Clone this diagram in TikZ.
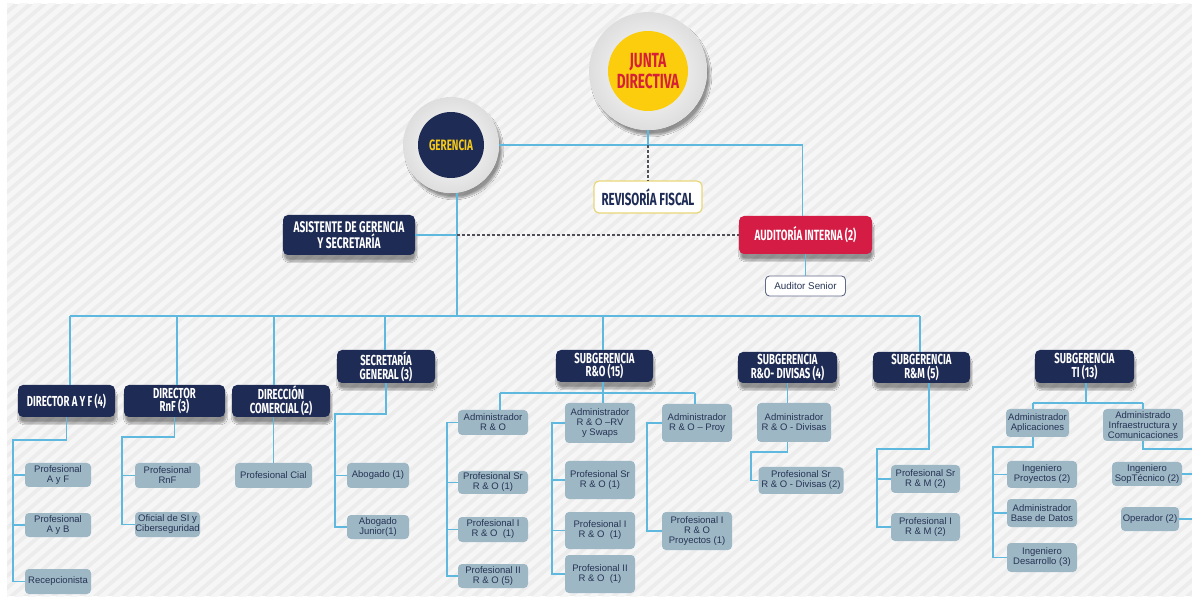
\documentclass[tikz,border=0pt]{standalone}
\usepackage{fontspec}
\usetikzlibrary{shadows.blur}
\newfontfamily\hdfont[FakeStretch=0.66]{Fira Sans Bold}
\newfontfamily\sbfont{Liberation Sans}
\definecolor{navy}{RGB}{30,43,85}
\definecolor{linec}{RGB}{95,185,222}
\definecolor{boxfill}{RGB}{158,183,197}
\definecolor{boxtext}{RGB}{38,52,84}
\definecolor{redbox}{RGB}{212,28,68}
\definecolor{jred}{RGB}{214,32,55}
\definecolor{jyel}{RGB}{251,205,12}
\definecolor{gyel}{RGB}{246,202,22}
\definecolor{revb}{RGB}{232,214,120}
\definecolor{dashc}{RGB}{80,80,88}
\definecolor{bgc}{RGB}{236,236,237}
\definecolor{stripec}{RGB}{246,246,247}
\tikzset{
  hdr/.style={fill=navy, rounded corners=5pt, text=white, align=center, inner sep=0pt,
    font=\hdfont\fontsize{14.5}{11.5}\selectfont,
    blur shadow={shadow xshift=1pt, shadow yshift=-6pt, shadow blur steps=8, shadow opacity=40}},
  sbox/.style={fill=boxfill, rounded corners=4pt, text=boxtext, align=center, inner sep=0pt,
    font=\sbfont\fontsize{9.5}{10}\selectfont},
  conn/.style={draw=linec, line width=1.5pt},
  dconn/.style={draw=dashc, line width=1.3pt, dash pattern=on 3pt off 2pt},
  ringbase/.style={circle, inner sep=0pt, fill=white,
    blur shadow={shadow xshift=3pt, shadow yshift=-5pt, shadow blur steps=10, shadow opacity=40}},
  ringface/.style={circle, inner sep=0pt, shading=radial, inner color=white, outer color=black!13},
}
\begin{document}
\begin{tikzpicture}[x=1pt,y=-1pt]
\useasboundingbox (0,0) rectangle (1192,601);

% striped backdrop
\fill[white] (0,0) rectangle (1192,601);
\begin{scope}
  \clip (7,4) rectangle (1192,596);
  \fill[bgc] (7,4) rectangle (1192,596);
  \foreach \i in {-60,...,90}
    \draw[stripec, line width=5pt] (\i*14,600) -- (\i*14+700,0);
\end{scope}

% top level
\node[ringbase, minimum size=118] (jun) at (648,71) {};
\node[ringface, minimum size=118] at (jun) {};
\node[circle, fill=jyel, minimum size=80, inner sep=0pt, text=jred, align=center,
      font=\hdfont\fontsize{20.5}{21}\selectfont] (junIn) at (jun) {JUNTA\\DIRECTIVA};
\node[ringbase, minimum size=96] (ger) at (451,145) {};
\node[ringface, minimum size=96] at (ger) {};
\node[circle, fill=navy, minimum size=66, inner sep=0pt, text=gyel,
      font=\hdfont\fontsize{15}{15}\selectfont] (gerIn) at (ger) {GERENCIA};
\node[fill=white, draw=revb, line width=1.2pt, rounded corners=5pt, minimum width=108, minimum height=32,
      inner sep=0pt, text=navy, font=\hdfont\fontsize{17.5}{17}\selectfont] (rev) at (648,197) {REVISORÍA FISCAL};
\node[hdr, minimum width=132, minimum height=40, font=\hdfont\fontsize{15.4}{12.5}\selectfont]
      (asis) at (349,235) {ASISTENTE DE GERENCIA\\Y SECRETARÍA};
\node[hdr, fill=redbox, minimum width=133, minimum height=38, font=\hdfont\fontsize{14.8}{12}\selectfont]
      (aud) at (805.5,235) {AUDITORÍA INTERNA (2)};
\node[fill=white, draw=navy!70, line width=0.9pt, rounded corners=4pt, minimum width=80, minimum height=20,
      inner sep=0pt, text=boxtext, font=\sbfont\fontsize{9.8}{10}\selectfont] (sen) at (805.5,286) {Auditor Senior};

% second level
\node[hdr, minimum width=97, minimum height=32] (dayf) at (66.5,401) {DIRECTOR A Y F (4)};
\node[hdr, minimum width=101, minimum height=32] (drnf) at (174.5,401) {DIRECTOR\\RnF (3)};
\node[hdr, minimum width=98, minimum height=32] (dcom) at (281,401) {DIRECCIÓN\\COMERCIAL (2)};
\node[hdr, minimum width=98, minimum height=33] (sgen) at (386,366.5) {SECRETARÍA\\GENERAL (3)};
\node[hdr, minimum width=97, minimum height=32] (sro) at (604.5,366) {SUBGERENCIA\\R\&O (15)};
\node[hdr, minimum width=99, minimum height=31] (sdiv) at (787.5,367.5) {SUBGERENCIA\\R\&O- DIVISAS (4)};
\node[hdr, minimum width=97, minimum height=31] (srm) at (921.5,367.5) {SUBGERENCIA\\R\&M (5)};
\node[hdr, minimum width=99, minimum height=33] (sti) at (1084.5,366.5) {SUBGERENCIA\\TI (13)};

% staff boxes
\node[sbox, minimum width=66, minimum height=24] (pAF) at (58,475) {Profesional\\A y F};
\node[sbox, minimum width=66, minimum height=24] (pAB) at (58,525) {Profesional\\A y B};
\node[sbox, minimum width=66, minimum height=25] (rec) at (58,581.5) {Recepcionista};
\node[sbox, minimum width=65, minimum height=25] (pRnF) at (167.5,475.5) {Profesional\\RnF};
\node[sbox, minimum width=65, minimum height=25] (ofSI) at (167.5,524.5) {Oficial de SI y\\Ciberseguridad};
\node[sbox, minimum width=77, minimum height=25] (pCial) at (273.5,475.5) {Profesional Cial};
\node[sbox, minimum width=62, minimum height=25] (abo) at (378,475.5) {Abogado (1)};
\node[sbox, minimum width=62, minimum height=24] (aboJ) at (378,527) {Abogado\\Junior(1)};

\node[sbox, minimum width=70, minimum height=25] (aRO) at (493,422.5) {Administrador\\R \& O};
\node[sbox, minimum width=70, minimum height=23] (pSrRO1) at (493,482.5) {Profesional Sr\\R \& O (1)};
\node[sbox, minimum width=70, minimum height=25] (pIRO1) at (493,529.5) {Profesional I\\R \& O~~(1)};
\node[sbox, minimum width=70, minimum height=24] (pIIRO1) at (493,576) {Profesional II\\R \& O (5)};

\node[sbox, minimum width=70, minimum height=40] (aRV) at (600,423) {Administrador\\R \& O –RV\\y Swaps};
\node[sbox, minimum width=70, minimum height=38] (pSrRO2) at (600,480) {Profesional Sr\\R \& O (1)};
\node[sbox, minimum width=70, minimum height=37] (pIRO2) at (600,530.5) {Profesional I\\R \& O~~(1)};
\node[sbox, minimum width=70, minimum height=38] (pIIRO2) at (600,574) {Profesional II\\R \& O~~(1)};

\node[sbox, minimum width=70, minimum height=38] (aProy) at (697,423) {Administrador\\R \& O – Proy};
\node[sbox, minimum width=70, minimum height=38] (pIProy) at (697,531) {Profesional I\\R \& O\\Proyectos (1)};

\node[sbox, minimum width=74, minimum height=39] (aDiv) at (794,422.5) {Administrador\\R \& O - Divisas};
\node[sbox, minimum width=85, minimum height=27] (pSrDiv) at (801,480.5) {Profesional Sr\\R \& O - Divisas (2)};

\node[sbox, minimum width=69, minimum height=28] (pSrRM) at (925.5,479) {Profesional Sr\\R \& M (2)};
\node[sbox, minimum width=69, minimum height=28] (pIRM) at (925.5,527) {Profesional I\\R \& M (2)};

\node[sbox, minimum width=63, minimum height=28] (aApl) at (1037.5,423) {Administrador\\Aplicaciones};
\node[sbox, minimum width=80, minimum height=32] (aInf) at (1143,425) {Administrado\\Infraestructura y\\Comunicaciones};
\node[sbox, minimum width=70, minimum height=27] (iPro) at (1042,474.5) {Ingeniero\\Proyectos (2)};
\node[sbox, minimum width=70, minimum height=28] (aBD) at (1042,513) {Administrador\\Base de Datos};
\node[sbox, minimum width=70, minimum height=29] (iDes) at (1042,557.5) {Ingeniero\\Desarrollo (3)};
\node[sbox, minimum width=70, minimum height=24] (iSop) at (1147,474) {Ingeniero\\SopTécnico (2)};
\node[sbox, minimum width=58, minimum height=24] (oper) at (1150,519) {Operador (2)};

% junction points
\coordinate (gtop) at (457,193);
\coordinate (gmid) at (457,235);
\coordinate (gbus) at (457,316);
\coordinate (tap1) at (70,316);
\coordinate (tap2) at (177,316);
\coordinate (tap3) at (274,316);
\coordinate (tap4) at (385,316);
\coordinate (tap5) at (603,316);
\coordinate (tap6) at (920,316);
\coordinate (ayfK) at (13,440);
\coordinate (rnfK) at (122,437);
\coordinate (sgK) at (335,414);
\coordinate (roL) at (500,393);
\coordinate (roM) at (603,393);
\coordinate (roR) at (695,393);
\coordinate (c1K) at (447,576);
\coordinate (c2K) at (552,574);
\coordinate (c3K) at (647,531);
\coordinate (dvK) at (751,452);
\coordinate (rmT) at (929,383);
\coordinate (rmK) at (877,449);
\coordinate (tiM) at (1086,403);
\coordinate (tiL) at (1033,403);
\coordinate (tiR) at (1143,403);
\coordinate (tiLK) at (993,447);
\coordinate (tiRK) at (1196,449);

% upper connectors
\draw[conn] (ger.east) -| ([xshift=-3pt]aud.north);
\draw[conn] (jun.south) -- (jun.south |- ger.east);
\draw[dconn] (jun.south |- ger.east) -- (rev.north);
\draw[conn] (gtop) -- (gbus);
\draw[conn] (asis.east) -- (gmid);
\draw[dconn] (gmid) -- (aud.west);
\draw[conn] (sen.north |- aud.south) -- (sen.north);

% main bus
\draw[conn] (tap1) -- (tap6);
\draw[conn] (tap1) -- (tap1 |- dayf.north);
\draw[conn] (tap2) -- (tap2 |- drnf.north);
\draw[conn] (tap3) -- (tap3 |- dcom.north);
\draw[conn] (tap4) -- (tap4 |- sgen.north);
\draw[conn] (tap5) -- (tap5 |- sro.north);
\draw[conn] (tap6) -- (tap6 |- srm.north);

% director A y F
\draw[conn] (dayf.south) |- (ayfK) -- (ayfK |- rec.west) -- (rec.west);
\draw[conn] (ayfK |- pAF.west) -- (pAF.west);
\draw[conn] (ayfK |- pAB.west) -- (pAB.west);
% director RnF
\draw[conn] (drnf.south) |- (rnfK) -- (rnfK |- ofSI.west) -- (ofSI.west);
\draw[conn] (rnfK |- pRnF.west) -- (pRnF.west);
% comercial
\draw[conn] (pCial.north |- dcom.south) -- (pCial.north);
% secretaria general
\draw[conn] (sgen.south) |- (sgK) -- (sgK |- aboJ.west) -- (aboJ.west);
\draw[conn] (sgK |- abo.west) -- (abo.west);

% subgerencia R&O
\draw[conn] (roM |- sro.south) -- (roM);
\draw[conn] (roL) -- (roR);
\draw[conn] (roL) -- (roL |- aRO.north);
\draw[conn] (roM) -- (roM |- aRV.north);
\draw[conn] (roR) -- (roR |- aProy.north);
\draw[conn] (aRO.west) -| (c1K) -- (pIIRO1.west);
\draw[conn] (c1K |- pSrRO1.west) -- (pSrRO1.west);
\draw[conn] (c1K |- pIRO1.west) -- (pIRO1.west);
\draw[conn] (aRV.west) -| (c2K) -- (pIIRO2.west);
\draw[conn] (c2K |- pSrRO2.west) -- (pSrRO2.west);
\draw[conn] (c2K |- pIRO2.west) -- (pIRO2.west);
\draw[conn] (aProy.west) -| (c3K) -- (pIProy.west);

% subgerencia divisas
\draw[conn] (sdiv.south) -- (sdiv.south |- aDiv.north);
\draw[conn] (sdiv.south |- aDiv.south) |- (dvK) -- (dvK |- pSrDiv.west) -- (pSrDiv.west);

% subgerencia R&M
\draw[conn] (rmT) |- (rmK) -- (rmK |- pIRM.west) -- (pIRM.west);
\draw[conn] (rmK |- pSrRM.west) -- (pSrRM.west);

% subgerencia TI
\draw[conn] (tiM |- sti.south) -- (tiM);
\draw[conn] (tiL) -- (tiR);
\draw[conn] (tiL) -- (tiL |- aApl.north);
\draw[conn] (tiR) -- (aInf.north);
\draw[conn] (tiL |- aApl.south) |- (tiLK) -- (tiLK |- iDes.west) -- (iDes.west);
\draw[conn] (tiLK |- iPro.west) -- (iPro.west);
\draw[conn] (tiLK |- aBD.west) -- (aBD.west);
\draw[conn] (aInf.south) |- (tiRK) -- (tiRK |- oper.east) -- (oper.east);
\draw[conn] (iSop.east) -- (iSop.east -| tiRK);
\end{tikzpicture}
\end{document}
